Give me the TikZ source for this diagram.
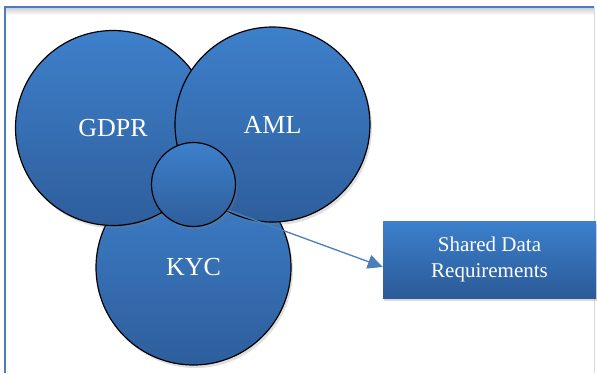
\documentclass[tikz,border=0pt]{standalone}
\usepackage{fontspec}
\setmainfont{Liberation Serif}
\usepackage{xcolor}
\usetikzlibrary{shapes.geometric, arrows.meta, positioning, shadows}
\definecolor{circtop}{RGB}{62,128,203}
\definecolor{circbot}{RGB}{46,94,156}
\definecolor{boxtop}{RGB}{60,128,204}
\definecolor{boxbot}{RGB}{43,90,152}
\definecolor{frameblue}{RGB}{74,126,187}

\begin{document}
\begin{tikzpicture}[x=1pt, y=-1pt]
    % Define styles
    \tikzstyle{reg}=[circle, draw=black, line width=1.2pt, inner sep=0pt, minimum size=195pt, top color=circtop, bottom color=circbot, text=white, font=\fontsize{26}{30}\selectfont, drop shadow={opacity=0.25, shadow xshift=2pt, shadow yshift=-3pt}]
    \tikzstyle{core}=[reg, minimum size=84pt]
    \tikzstyle{outbox}=[rectangle, minimum width=213pt, minimum height=77pt, top color=boxtop, bottom color=boxbot, text=white, align=center, font=\fontsize{21}{26}\selectfont, drop shadow={opacity=0.3, shadow xshift=1pt, shadow yshift=-3pt}]
    \tikzstyle{link}=[draw=frameblue, line width=1.3pt, -{Triangle[length=15pt, width=14pt]}]

    \useasboundingbox (0,0) rectangle (597,373);
    \clip (0,0) rectangle (597,373);

    % Page frame
    \shade[top color=black!18, bottom color=white] (6,8) rectangle (594,15);
    \draw[black!15, line width=0.8pt] (594,7) -- (594,373);
    \draw[frameblue, line width=1.2pt] (5,373) -- (5,7) -- (594,7);

    % Regulation circles
    \node[reg] at (193.5,267.5) (kyc) {KYC};
    \node[reg] at (113,128) (gdpr) {GDPR};
    \node[reg] at (272.5,124.5) (aml) {AML};
    \node[core] at (193.5,184.5) (shared) {};

    % Output box
    \node[outbox] at (489.5,259.5) (req) {Shared Data\\Requirements};

    \draw[link] (shared.-37) -- (req.184);
\end{tikzpicture}
\end{document}
